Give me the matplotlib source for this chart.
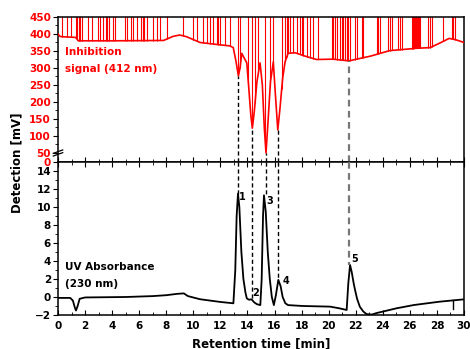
import matplotlib
matplotlib.use("Agg")
import matplotlib.pyplot as plt
from matplotlib.ticker import MultipleLocator, FixedLocator
import numpy as np

plt.rcParams['font.family'] = ['DejaVu Sans']
plt.rcParams['font.weight'] = 'bold'

# inhibition signal (412 nm), mV
red_t = [0, 0.15, 0.3, 1.3, 1.5, 4.0, 7.8, 8.5, 9.0, 9.5, 10.5, 12.0, 12.7,
         12.95, 13.15, 13.33, 13.45, 13.58, 13.75, 13.95, 14.1, 14.25, 14.36,
         14.5, 14.7, 14.93, 15.1, 15.25, 15.37, 15.5, 15.7, 15.91, 16.05,
         16.24, 16.4, 16.6, 16.78, 17.0, 17.5, 18.25, 19.1, 20.3, 21.5, 23.1,
         24.5, 26.5, 27.5, 28.3, 28.9, 29.4, 30.0]
red_v = [400, 393, 392, 390, 380, 380, 381, 393, 397, 392, 375, 368, 365,
         360, 320, 277, 300, 343, 330, 315, 240, 160, 123,
         170, 260, 315, 250, 120, 50, 130, 260, 318, 230,
         118, 180, 270, 318, 343, 345, 335, 325, 326, 321, 335,
         351, 358, 360, 375, 387, 383, 375]

# noise spikes on the inhibition trace
spike_t = [0.27, 0.64, 0.94, 1.33, 1.43, 1.55, 1.63, 1.75, 2.2, 2.49, 2.98,
           3.1, 3.35, 3.55, 3.65, 3.77, 4.1, 4.2, 4.95, 5.08, 5.37, 5.57,
           5.87, 6.12, 6.27, 6.36, 6.56, 7.0, 7.3, 7.54, 8.03, 9.26, 10.0,
           10.25, 10.74, 10.99, 11.23, 11.48, 11.73, 11.85, 11.97, 12.34,
           12.71, 13.33, 13.45, 14.07, 14.31, 14.56, 14.8, 15.3, 15.67, 15.91,
           16.53, 16.78, 16.9, 17.02, 17.15, 17.39, 17.64, 17.89, 18.01,
           18.13, 18.38, 18.63, 18.87, 19.24, 20.23, 20.35, 20.47, 20.6,
           20.84, 20.97, 21.09, 21.21, 21.34, 21.46, 21.58, 21.95, 22.08,
           22.45, 22.57, 23.55, 23.67, 23.8, 24.41, 24.54, 24.66, 25.15,
           25.28, 25.4, 26.14, 26.2, 26.26, 26.33, 26.39, 26.45, 26.51,
           26.57, 26.63, 26.7, 26.76, 27.37, 27.49, 27.62, 28.48, 29.1,
           29.22, 29.34]

# UV absorbance (230 nm)
uv_t = [0, 0.9, 1.1, 1.25, 1.33, 1.45, 1.6, 2.0, 5.0, 7.0, 8.0, 8.8, 9.3,
        9.6, 10.5, 12.0, 12.96, 13.1, 13.2, 13.3, 13.4, 13.55, 13.7, 13.85,
        13.95, 14.1, 14.3, 14.5, 14.7, 14.95, 15.05, 15.15, 15.22, 15.35,
        15.5, 15.65, 15.8, 15.95, 16.1, 16.28, 16.45, 16.6, 16.8, 17.0,
        18.1, 20.1, 20.8, 21.33, 21.45, 21.58, 21.7, 21.85, 21.95, 22.1,
        22.3, 22.55, 22.8, 23.2, 23.5, 25.0, 26.3, 28.2, 30.0]
uv_v = [-0.1, -0.1, -0.4, -1.2, -1.5, -1.0, -0.2, -0.05, 0.0, 0.1, 0.2,
        0.35, 0.4, 0.1, -0.25, -0.55, -0.7, 3.0, 9.0, 11.5, 10.0, 5.0, 2.0,
        0.5, -0.15, -0.3, -0.26, -0.6, -0.8, -0.9, 2.0, 9.0, 11.3, 9.5, 5.0,
        2.0, 0.0, -0.9, 0.2, 1.9, 1.2, 0.0, -0.7, -0.9, -1.0, -1.07, -1.26,
        -1.44, 1.5, 3.56, 2.8, 1.5, 0.78, -0.2, -1.07, -1.6, -1.9, -1.95,
        -1.8, -1.26, -0.89, -0.52, -0.26]

peak_labels = ['1', '2', '3', '4', '5']
peak_lab_t = [13.6, 14.63, 15.67, 16.83, 21.95]
peak_lab_v = [11.1, 0.5, 10.7, 1.8, 4.2]

# dashed guide lines: time, inhibition minimum, UV peak top
guide_t = [13.33, 14.36, 15.35, 16.26, 21.5]
guide_red = [277, 123, 50, 118, 321]
guide_uv = [11.5, -0.26, 11.3, 1.9, 3.56]
guide_col = ['black', 'black', 'black', 'black', '#777777']
guide_lw = [1.0, 1.0, 1.0, 1.0, 1.6]

RED = '#ff0000'
fs_tick = 7.5

fig = plt.figure(figsize=(4.70, 3.49), dpi=100)
L, W = 58 / 470, 406 / 470
ax1 = fig.add_axes([L, 1 - 162 / 349, W, 145 / 349])
ax2 = fig.add_axes([L, 1 - 315 / 349, W, 153 / 349])

# top panel
red_low = 23.5
ax1.plot(red_t, red_v, color=RED, lw=1.2, zorder=3)
spike_base = np.interp(spike_t, red_t, red_v)
ax1.vlines(spike_t, spike_base, 470, color=RED, lw=0.8, zorder=2)
ax1.set_xlim(0, 30)
ax1.set_ylim(red_low, 450)
ax1.yaxis.set_major_locator(FixedLocator([red_low] + list(range(50, 451, 50))))
ax1.set_yticklabels(['0'] + [str(v) for v in range(50, 451, 50)])
ax1.yaxis.set_minor_locator(FixedLocator(list(range(75, 450, 50))))
ax1.xaxis.set_major_locator(MultipleLocator(2))
ax1.xaxis.set_minor_locator(MultipleLocator(1))
ax1.tick_params(axis='y', which='both', direction='out', colors='black',
                labelcolor=RED, labelsize=fs_tick, pad=1.5, left=True, right=False)
ax1.tick_params(axis='y', which='major', length=3.5)
ax1.tick_params(axis='y', which='minor', length=2)
ax1.tick_params(axis='x', which='both', direction='in', bottom=True, top=False,
                labelbottom=False)
ax1.tick_params(axis='x', which='major', length=3.5)
ax1.tick_params(axis='x', which='minor', length=2)
ax1.text(0.5, 346, 'Inhibition', color=RED, fontsize=7.5, fontweight='bold',
         va='center', ha='left')
ax1.text(0.5, 296, 'signal (412 nm)', color=RED, fontsize=7.5,
         fontweight='bold', va='center', ha='left')
# axis break marks
for dy in (-4, 4):
    ax1.plot([-0.35, 0.35], [50 + dy - 5, 50 + dy + 5], color='black', lw=0.9,
             clip_on=False, zorder=5)

# bottom panel
ax2.plot(uv_t, uv_v, color='black', lw=1.3, zorder=3)
ax2.plot([29.2, 29.2], [-0.35, -1.35], color='black', lw=1.0)
ax2.set_xlim(0, 30)
ax2.set_ylim(-2, 15)
ax2.yaxis.set_major_locator(FixedLocator(list(range(-2, 15, 2))))
ax2.yaxis.set_minor_locator(MultipleLocator(1))
ax2.xaxis.set_major_locator(MultipleLocator(2))
ax2.xaxis.set_minor_locator(MultipleLocator(1))
ax2.tick_params(axis='y', which='both', direction='out', labelsize=fs_tick,
                pad=1.5, left=True, right=False)
ax2.tick_params(axis='y', which='major', length=3.5)
ax2.tick_params(axis='y', which='minor', length=2)
ax2.tick_params(axis='x', which='both', direction='in', top=True, bottom=True,
                labelsize=fs_tick, pad=4)
ax2.tick_params(axis='x', which='major', length=3.5)
ax2.tick_params(axis='x', which='minor', length=2)
ax2.text(0.5, 3.3, 'UV Absorbance', fontsize=7.5, fontweight='bold',
         va='center', ha='left')
ax2.text(0.5, 1.4, '(230 nm)', fontsize=7.5, fontweight='bold',
         va='center', ha='left')
for lab, t, v in zip(peak_labels, peak_lab_t, peak_lab_v):
    ax2.text(t, v, lab, fontsize=7, fontweight='bold', ha='center', va='center')

for t, rv, uv, c, lw in zip(guide_t, guide_red, guide_uv, guide_col, guide_lw):
    ax1.plot([t, t], [red_low, rv], ls=(0, (3, 2)), color=c, lw=lw, zorder=4)
    ax2.plot([t, t], [15, uv], ls=(0, (3, 2)), color=c, lw=lw, zorder=4)

for ax in (ax1, ax2):
    for sp in ax.spines.values():
        sp.set_linewidth(1.1)
    for lab in ax.get_yticklabels() + ax.get_xticklabels():
        lab.set_fontweight('bold')

fig.text(17 / 470, 1 - 163 / 349, 'Detection [mV]', rotation=90, fontsize=8.5,
         fontweight='bold', ha='center', va='center')
fig.text(261 / 470, 1 - 344 / 349, 'Retention time [min]', fontsize=8.5,
         fontweight='bold', ha='center', va='center')

fig.savefig('out.png', dpi=100)
